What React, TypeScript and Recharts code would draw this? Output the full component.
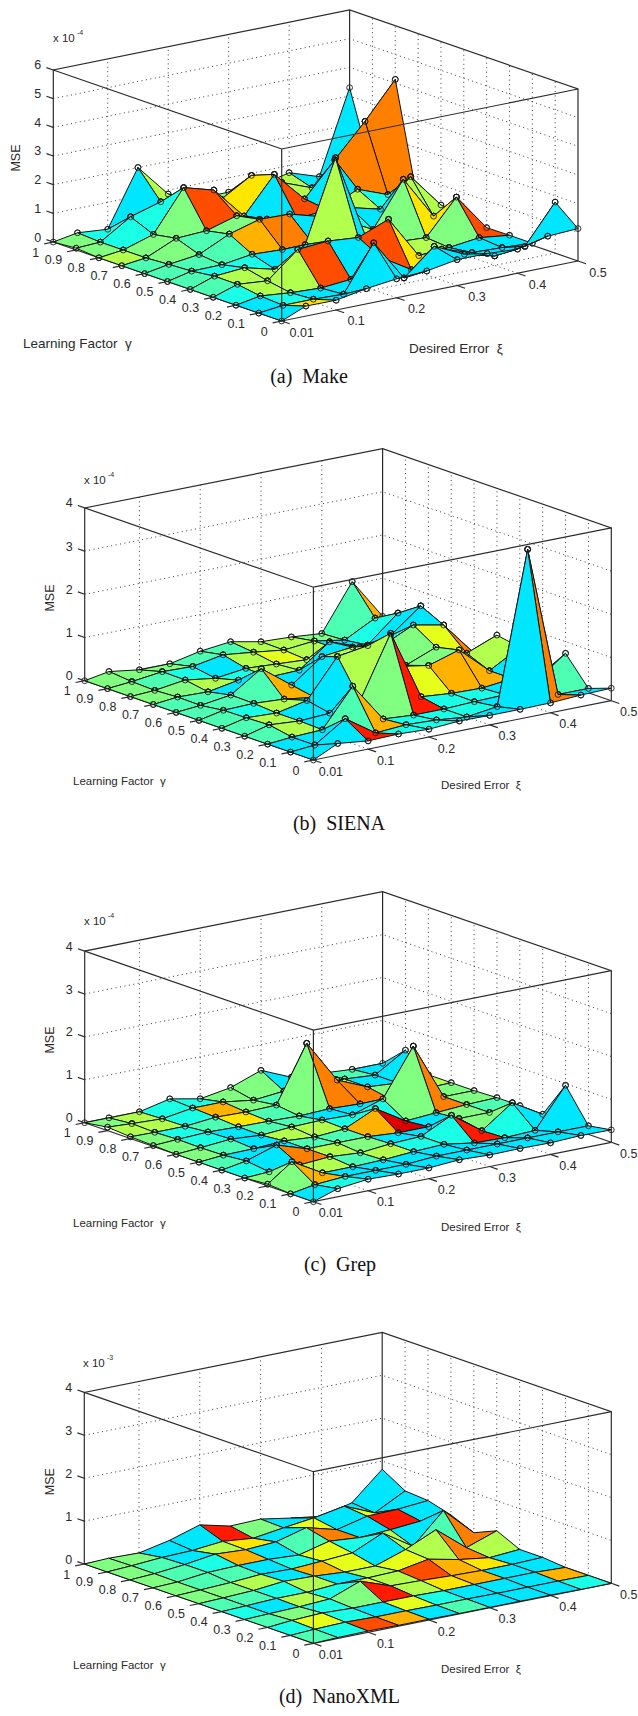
import React from 'react';
import { ScatterChart, Scatter, XAxis, YAxis } from 'recharts';

const xiValues = [0.01, 0.05, 0.1, 0.15, 0.2, 0.25, 0.3, 0.35, 0.4, 0.45, 0.5];
const gammaValues = [0, 0.1, 0.2, 0.3, 0.4, 0.5, 0.6, 0.7, 0.8, 0.9, 1];
const xiTicks = [0.01, 0.1, 0.2, 0.3, 0.4, 0.5];
const xiTickLabels = ['0.01', '0.1', '0.2', '0.3', '0.4', '0.5'];
const gammaTicks = [0, 0.1, 0.2, 0.3, 0.4, 0.5, 0.6, 0.7, 0.8, 0.9, 1];
const gammaTickLabels = ['0', '0.1', '0.2', '0.3', '0.4', '0.5', '0.6', '0.7', '0.8', '0.9', '1'];

// MSE rows: one row per gamma (0 .. 1), one column per xi (0.01 .. 0.5)
const makeZ = [
  [0, 0.35, 0.34, 0.53, 0.66, 0.72, 0.9, 0.9, 0.84, 1.08, 1.13],
  [0, 0.1, 0.1, 0.06, 1.64, 0.2, 1.09, 0.6, 0.33, 0.45, 1.78],
  [0, 0.15, 0.05, 0, 0.09, 0.64, 0, 0.5, 0.17, 0.13, 0.07],
  [0, 0.28, 0.19, 1.07, 1.15, 1.06, 1.48, 0, 0.07, 0.2, 0.07],
  [0, 0.29, 0.37, 0.1, 0.75, 3.57, 0.6, 0.2, 0.14, 1.34, 0.06],
  [0, 0.19, 0.2, 0.35, 0.3, 0.3, 0.9, 0.36, 1.9, 0.4, 0.2],
  [0, 0.15, 0.28, 0.78, 1.08, 1.05, 0.75, 0.85, 0.58, 1.5, 0.3],
  [0, 0.1, 0.57, 0.62, 0.93, 0.6, 0.4, 0.5, 1.0, 0.6, 0.1],
  [0, 0.1, 0.43, 1.85, 1.55, 0.43, 1.67, 0.6, 1.75, 2.88, 4.13],
  [0.06, 0.1, 0.77, 1.08, 0.9, 0.74, 1.36, 0.9, 0.5, 0.5, 0.6],
  [0, 0.15, 0.06, 2.0, 0.86, 0.5, 0.5, 0.5, 0.75, 0.4, 3.29],
];
const sienaZ = [
  [0, 0.27, 0.19, 0.21, 0.18, 0.23, 0.22, 0.22, 0.23, 0.27, 0.29],
  [0, 0.05, 0.52, 0.05, 0.1, 0.07, 0, 0.1, 3.6, 0.1, 0.1],
  [0, 0.05, 0.08, 0.95, 0.05, 0, 0, 0.03, 0.05, 0.2, 0.73],
  [0, 0.15, 0.1, 0.14, 0.3, 1.71, 0.1, 0.04, 0.02, 0.1, 0.1],
  [0, 0.13, 0.1, 0.25, 1.13, 1.24, 0.62, 0.5, 0.72, 0.1, 0.5],
  [0, 0.12, 0.14, 0.1, 0, 0.8, 0.5, 0.32, 0.6, 0.32, 0.6],
  [0, 0.05, 0.15, 0.62, 0.1, 0.62, 0.7, 0.6, 0.93, 0.79, 0],
  [0, 0.06, 0.04, 0.17, 0.1, 0.12, 0.64, 0.38, 0.5, 1.05, 0.2],
  [0, 0.03, 0.13, 0.03, 0.12, 0.08, 0.04, 0.15, 0.1, 0.7, 0.4],
  [0, 0.05, 0.14, 0.12, 0.25, 0.17, 0.08, 0.15, 0.03, 0.4, 0.2],
  [0, 0.1, 0, 0, 0.15, 0.23, 0.09, 0.06, 0, 1.06, 0.12],
];
const grepZ = [
  [0, 0.19, 0.27, 0.25, 0.25, 0.3, 0.27, 0.28, 0.27, 0.3, 0.29],
  [0, 0.1, 0.15, 0.15, 0.15, 0.2, 0.2, 0.2, 0.2, 0.2, 0.2],
  [0.04, 0.45, 0.05, 0.05, 0.07, 0.12, 0.15, 0.04, 0.02, 0.05, 0.96],
  [0, 0.03, 0.05, 0.1, 0.05, 0.12, 0.15, 0.5, 0, 0.51, 0.1],
  [0, 0.1, 0.33, 0.1, 0.1, 0.1, 0.05, 0.05, 0.1, 0.1, 0.12],
  [0, 0.05, 0.06, 0.1, 0.05, 0.1, 0.43, 0, 0.05, 0.1, 0.12],
  [0, 0.04, 0.1, 0.05, 0.1, 0.12, 0.1, 0.33, 1.42, 0.1, 0.1],
  [0.02, 0.05, 0.08, 0.06, 0.05, 0.03, 0.06, 0.03, 0, 0.08, 0.1],
  [0.04, 0.03, 0.03, 0.1, 0.08, 0.1, 1.4, 0.4, 0.1, 0.05, 0.1],
  [0.08, 0.05, 0.02, 0.13, 0.13, 0.03, 0.1, 0.1, 0.1, 0.05, 0.49],
  [0, 0, 0, 0.16, 0.02, 0.14, 0.4, 0.1, 0.05, 0, 0],
];
const nanoZ = [
  [0, 0.02, 0.03, 0.02, 0.02, 0.01, 0.01, 0.01, 0.01, 0, 0],
  [0, 0.03, 0.05, 0.03, 0.03, 0.02, 0.02, 0.01, 0.01, 0.01, 0],
  [0, 0.05, 0.08, 0.05, 0.05, 0.05, 0.03, 0.03, 0.03, 0.03, 0],
  [0, 0.02, 0.04, 0.08, 0.35, 0.1, 0.08, 0.05, 0.03, 0.03, 0.05],
  [0, 0.02, 0.05, 0.05, 0.1, 0.1, 0.12, 0.25, 0.1, 0, 0.05],
  [0, 0.02, 0.05, 0.12, 0.1, 0.05, 0.05, 0.29, 0.61, 0.05, 0.3],
  [0, 0.02, 0.05, 0.1, 0.08, 0.12, 0.17, 0.49, 0.04, 0.73, 0.07],
  [0, 0.02, 0.1, 0.12, 0.12, 0.08, 0.26, 0.2, 0.24, 0.3, 0.3],
  [0, 0.03, 0.1, 0.2, 0.16, 0.2, 0.39, 0.2, 0.37, 0.39, 0.45],
  [0, 0.03, 0.08, 0.1, 0.17, 0.1, 0.2, 0.29, 0.42, 0.12, 0.49],
  [0, 0.02, 0, 0.15, 0.37, 0.2, 0.22, 0.1, 0, 0.17, 0.81],
];

// Face colour keys, one row per gamma cell, one letter per xi cell
const makeFaces = ['cYcccccccc', 'ctccoccccc', 'tllOcOYccc', 'sllclctlgO', 'sttctclgYl', 'sssaoctcll', 'sgsggccltg', 'lggOacOcoo', 'gttlaYalcc', 'gtclggglcc'];
const sienaFaces = ['ccrttcccoc', 'ccsatttccs', 'slcggrttcs', 'slcclgyaac', 'stlcsgggll', 'sssacllgyo', 'ssclccltcc', 'ggltllatcc', 'gstclylctt', 'gggssllgsa'];
const grepFaces = ['ctcccccccc', 'gacccccccc', 'gglslttrtc', 'tcolgcccgs', 'sccssadcgs', 'gscllttgog', 'gtcsscctgg', 'gtsYsgoogl', 'lltagsllcc', 'glttggcgsc'];
const nanoFaces = ['stOacsccct', 'tytcytccca', 'sgtgrlYacc', 'tcltylOaYc', 'sstlclylol', 'gglcayclso', 'gssctytlcs', 'gstacsocrc', 'gsclYcycyc', 'ggccrgcgcc'];

const faceColours: Record<string, string> = {
  c: '#00E6FF', t: '#1AFFE5', s: '#4DFFB3', g: '#80FF80', l: '#B3FF4D', y: '#E6FF1A',
  Y: '#FFE600', a: '#FFB300', o: '#FF8000', O: '#FF4D00', r: '#FF1A00', d: '#DD0000',
};

type Pt = { x: number; y: number };
type PanelSpec = {
  name: string; caption: string; zTickLabels: string[]; exponent: string; z: number[][]; faces: string[];
  top: number; height: number; front: Pt; xiVec: Pt; gammaVec: Pt; zUnit: number; zMax: number;
  markers: boolean; axisFont: number; xiLabel: Pt; gammaLabel: Pt; mseY: number; mseX: number;
  captionPos: Pt; exponentPos: Pt; xiLabelDx: number;
};

const panels: PanelSpec[] = [
  {
    name: 'a', caption: '(a)  Make', zTickLabels: ['0', '1', '2', '3', '4', '5', '6'], exponent: '-4', z: makeZ, faces: makeFaces,
    top: 0, height: 400, front: { x: 281.7, y: 321 }, xiVec: { x: 296.3, y: -60 }, gammaVec: { x: -228.4, y: -79 }, zUnit: 28.67, zMax: 6,
    markers: true, axisFont: 14.5, xiLabel: { x: 409, y: 353 }, gammaLabel: { x: 23, y: 348 }, mseX: 16.3, mseY: 158,
    captionPos: { x: 309, y: 383 }, exponentPos: { x: 53, y: 42 }, xiLabelDx: 20,
  },
  {
    name: 'b', caption: '(b)  SIENA', zTickLabels: ['0', '1', '2', '3', '4'], exponent: '-4', z: sienaZ, faces: sienaFaces,
    top: 430, height: 410, front: { x: 313.4, y: 330 }, xiVec: { x: 297.9, y: -59.3 }, gammaVec: { x: -228.7, y: -79.3 }, zUnit: 43.2, zMax: 4,
    markers: true, axisFont: 12.5, xiLabel: { x: 441, y: 359 }, gammaLabel: { x: 73, y: 355 }, mseX: 49.7, mseY: 168,
    captionPos: { x: 339, y: 400 }, exponentPos: { x: 84, y: 54 }, xiLabelDx: 17.5,
  },
  {
    name: 'c', caption: '(c)  Grep', zTickLabels: ['0', '1', '2', '3', '4'], exponent: '-4', z: grepZ, faces: grepFaces,
    top: 870, height: 410, front: { x: 313.4, y: 331.7 }, xiVec: { x: 297.9, y: -59.4 }, gammaVec: { x: -228.7, y: -79 }, zUnit: 42.9, zMax: 4,
    markers: true, axisFont: 12.5, xiLabel: { x: 441, y: 361 }, gammaLabel: { x: 73, y: 357 }, mseX: 49.7, mseY: 170,
    captionPos: { x: 340, y: 401 }, exponentPos: { x: 84, y: 55 }, xiLabelDx: 17.5,
  },
  {
    name: 'd', caption: '(d)  NanoXML', zTickLabels: ['0', '1', '2', '3', '4'], exponent: '-3', z: nanoZ, faces: nanoFaces,
    top: 1300, height: 416, front: { x: 313.4, y: 343.3 }, xiVec: { x: 297.9, y: -60 }, gammaVec: { x: -229.1, y: -79.3 }, zUnit: 42.9, zMax: 4,
    markers: false, axisFont: 12.5, xiLabel: { x: 441, y: 373 }, gammaLabel: { x: 73, y: 369 }, mseX: 49.7, mseY: 181.7,
    captionPos: { x: 339.5, y: 403 }, exponentPos: { x: 83, y: 67 }, xiLabelDx: 17.5,
  },
];

const project = (p: PanelSpec, xi: number, gamma: number, z: number): Pt => {
  const u = (xi - xiValues[0]) / (xiValues[10] - xiValues[0]);
  return {
    x: p.front.x + u * p.xiVec.x + gamma * p.gammaVec.x,
    y: p.front.y + u * p.xiVec.y + gamma * p.gammaVec.y - z * p.zUnit,
  };
};

const NoPoint = () => null;

const CellShape = (props: any) => {
  const { cx, cy, payload } = props;
  const corners: Pt[] = payload.corners;
  const pxs = corners.map((c) => ({ x: cx + (c.x - payload.x), y: cy + (c.y - payload.y) }));
  return (
    <g>
      <polygon
        points={pxs.map((c) => `${c.x},${c.y}`).join(' ')}
        fill={payload.fill}
        stroke="#101010"
        strokeWidth={1}
        strokeLinejoin="round"
      />
      {payload.markers &&
        pxs.map((c, k) => <circle key={k} cx={c.x} cy={c.y} r={2.9} fill="none" stroke="#1c1c1c" strokeWidth={0.9} />)}
    </g>
  );
};

const TextShape = (props: any) => {
  const { cx, cy, payload } = props;
  return (
    <text
      x={cx}
      y={cy}
      textAnchor={payload.anchor}
      fontFamily={payload.family || '"Liberation Sans", Arial, sans-serif'}
      fontSize={payload.size}
      fill={payload.color || '#2a2a2a'}
      transform={payload.rotate ? `rotate(${payload.rotate} ${cx} ${cy})` : undefined}
      style={{ whiteSpace: 'pre' }}
    >
      {payload.label}
    </text>
  );
};

const line = (key: string, pts: Pt[], opts: { dotted?: boolean; color?: string; width?: number } = {}) => (
  <Scatter
    key={key}
    data={pts}
    shape={NoPoint as any}
    isAnimationActive={false}
    line={{
      stroke: opts.color || (opts.dotted ? '#3a3a3a' : '#2c2c2c'),
      strokeWidth: opts.width || 1.2,
      strokeDasharray: opts.dotted ? '1 3.5' : undefined,
    } as any}
  />
);

const Panel = ({ p }: { p: PanelSpec }) => {
  const x0 = xiValues[0];
  const x1 = xiValues[10];
  const zTickValues = p.zTickLabels.map(Number);

  const back: React.ReactNode[] = [];
  zTickValues.slice(1, -1).forEach((z) => {
    back.push(line(`gz${z}`, [project(p, x0, 1, z), project(p, x1, 1, z), project(p, x1, 0, z)], { dotted: true, width: 1 }));
  });
  xiTicks.slice(1, -1).forEach((xi) => {
    back.push(line(`gx${xi}`, [project(p, xi, 0, 0), project(p, xi, 1, 0), project(p, xi, 1, p.zMax)], { dotted: true, width: 1 }));
  });
  gammaTicks.slice(1, -1).forEach((g) => {
    back.push(line(`gg${g}`, [project(p, x0, g, 0), project(p, x1, g, 0), project(p, x1, g, p.zMax)], { dotted: true, width: 1 }));
  });
  back.push(line('b1', [project(p, x0, 1, 0), project(p, x0, 1, p.zMax), project(p, x1, 1, p.zMax), project(p, x1, 0, p.zMax), project(p, x1, 0, 0)]));
  back.push(line('b2', [project(p, x1, 1, 0), project(p, x1, 1, p.zMax)]));
  back.push(line('b3', [project(p, x0, 1, 0), project(p, x0, 0, 0), project(p, x1, 0, 0)]));
  back.push(line('b4', [project(p, x0, 1, 0), project(p, x1, 1, 0), project(p, x1, 0, 0)]));

  const cells: any[] = [];
  for (let j = 9; j >= 0; j--) {
    for (let i = 9; i >= 0; i--) {
      const c00 = project(p, xiValues[i], gammaValues[j], p.z[j][i]);
      const c10 = project(p, xiValues[i + 1], gammaValues[j], p.z[j][i + 1]);
      const c11 = project(p, xiValues[i + 1], gammaValues[j + 1], p.z[j + 1][i + 1]);
      const c01 = project(p, xiValues[i], gammaValues[j + 1], p.z[j + 1][i]);
      cells.push({
        x: c00.x,
        y: c00.y,
        corners: [c00, c10, c11, c01],
        fill: faceColours[p.faces[j][i]] || faceColours.g,
        markers: p.markers,
      });
    }
  }

  const front: React.ReactNode[] = [
    line('f1', [project(p, x0, 1, p.zMax), project(p, x0, 0, p.zMax), project(p, x1, 0, p.zMax)]),
    line('f2', [project(p, x0, 0, 0), project(p, x0, 0, p.zMax)]),
  ];
  xiTicks.forEach((xi) => {
    front.push(line(`tx${xi}`, [project(p, xi, 0, 0), project(p, xi, -0.035, 0)]));
  });
  gammaTicks.forEach((g) => {
    front.push(line(`tg${g}`, [project(p, x0, g, 0), project(p, x0 - 0.015, g, 0)]));
  });
  zTickValues.forEach((z) => {
    front.push(line(`tz${z}`, [project(p, x0, 1, z), project(p, x0, 1.03, z)]));
  });

  const labels: any[] = [];
  xiTicks.forEach((xi, k) => {
    const a = project(p, xi, 0, 0);
    labels.push({ x: a.x + p.xiLabelDx, y: a.y + 15.5, label: xiTickLabels[k], anchor: 'middle', size: 12.5 });
  });
  gammaTicks.forEach((g, k) => {
    const a = project(p, x0, g, 0);
    labels.push({ x: a.x - 14, y: a.y + 14.5, label: gammaTickLabels[k], anchor: 'end', size: 12.5 });
  });
  zTickValues.forEach((z, k) => {
    const a = project(p, x0, 1, z);
    labels.push({ x: a.x - 12, y: a.y - 0.5, label: p.zTickLabels[k], anchor: 'end', size: 12.5 });
  });
  labels.push({ x: p.exponentPos.x, y: p.exponentPos.y, label: 'x 10', anchor: 'start', size: 11.5 });
  labels.push({ x: p.exponentPos.x + 24, y: p.exponentPos.y - 7, label: p.exponent, anchor: 'start', size: 7 });
  labels.push({ x: p.mseX + 4, y: p.mseY, label: 'MSE', anchor: 'middle', size: 12.5, rotate: -90 });
  labels.push({ x: p.gammaLabel.x, y: p.gammaLabel.y, label: 'Learning Factor  γ', anchor: 'start', size: p.axisFont - 1 });
  labels.push({ x: p.xiLabel.x, y: p.xiLabel.y, label: 'Desired Error  ξ', anchor: 'start', size: p.axisFont - 1 });
  labels.push({
    x: p.captionPos.x, y: p.captionPos.y, label: p.caption, anchor: 'middle', size: 20,
    family: '"Liberation Serif", "Times New Roman", serif', color: '#111',
  });

  return (
    <div style={{ position: 'absolute', left: 0, top: p.top, width: 638, height: p.height }}>
      <ScatterChart width={638} height={p.height} margin={{ top: 0, right: 0, bottom: 0, left: 0 }}>
        <XAxis type="number" dataKey="x" domain={[0, 638]} hide allowDataOverflow />
        <YAxis type="number" dataKey="y" domain={[0, p.height]} reversed hide allowDataOverflow />
        {back}
        <Scatter data={cells} shape={CellShape as any} isAnimationActive={false} />
        {front}
        <Scatter data={labels} shape={TextShape as any} isAnimationActive={false} />
      </ScatterChart>
    </div>
  );
};

export default function App() {
  return (
    <div style={{ position: 'absolute', left: 0, top: 0, width: 638, height: 1716, background: '#fff', overflow: 'hidden' }}>
      {panels.map((p) => (
        <Panel key={p.name} p={p} />
      ))}
    </div>
  );
}
